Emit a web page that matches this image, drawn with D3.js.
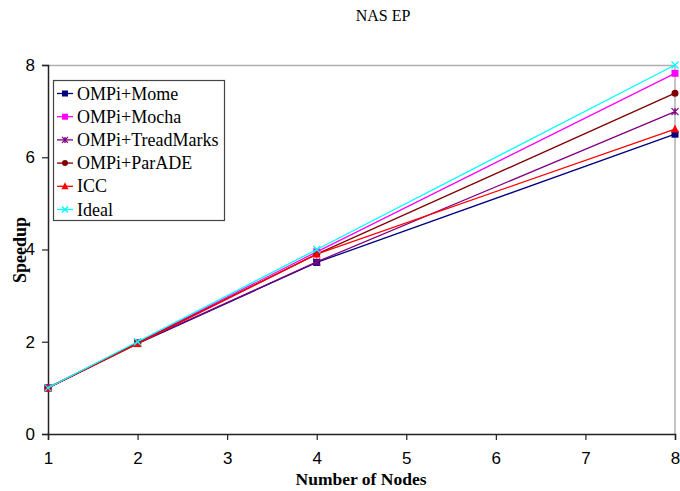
<!DOCTYPE html>
<html><head><meta charset="utf-8">
<script src="https://cdn.jsdelivr.net/npm/d3@7"></script>
<style>body{margin:0;background:#fff}</style>
</head><body>
<svg id="c" width="680" height="491"></svg>
<script>
const nodes = [1, 2, 4, 8];
const xTicks = [1, 2, 3, 4, 5, 6, 7, 8];
const yTicks = [0, 2, 4, 6, 8];
const seriesNames = ["OMPi+Mome", "OMPi+Mocha", "OMPi+TreadMarks", "OMPi+ParADE", "ICC", "Ideal"];
const mome = [1, 1.96, 3.72, 6.50];
const mocha = [1, 1.98, 3.95, 7.82];
const treadmarks = [1, 1.97, 3.73, 6.99];
const parade = [1, 1.97, 3.90, 7.39];
const icc = [1, 1.96, 3.90, 6.61];
const ideal = [1, 2, 4, 8];
const colors = ["#000080", "#FF00FF", "#800080", "#800000", "#FF0000", "#00FFFF"];
const markers = ["square", "square", "star", "circle", "triangle", "x"];
const values = [mome, mocha, treadmarks, parade, icc, ideal];

const svg = d3.select("#c");
const x = d3.scaleLinear().domain([1, 8]).range([48, 675]);
const y = d3.scaleLinear().domain([0, 8]).range([434, 65]);

svg.append("line").attr("x1", 48).attr("x2", 675).attr("y1", 65.5).attr("y2", 65.5).attr("stroke", "#b0b0b0").attr("stroke-width", 1.5);
svg.append("line").attr("x1", 675).attr("x2", 675).attr("y1", 65).attr("y2", 434).attr("stroke", "#b0b0b0").attr("stroke-width", 1.5);

const fontNum = "Liberation Sans, Arial, sans-serif";
const fontSerif = "Liberation Serif, Times New Roman, serif";

const yAxis = svg.append("g").attr("transform", "translate(48,0)")
  .call(d3.axisLeft(y).tickValues(yTicks).tickSize(6).tickPadding(7).tickFormat(d3.format("d")));
const xAxis = svg.append("g").attr("transform", "translate(0,434)")
  .call(d3.axisBottom(x).tickValues(xTicks).tickSize(6).tickPadding(12).tickFormat(d3.format("d")));
[yAxis, xAxis].forEach(a => {
  a.select(".domain").attr("stroke", "#222").attr("stroke-width", 1.5);
  a.selectAll(".tick line").attr("stroke", "#222").attr("stroke-width", 1.2);
  a.selectAll("text").attr("font-family", fontNum).attr("font-size", 17).attr("fill", "#000");
});

const line = d3.line().x((d, i) => x(nodes[i])).y(d => y(d));

function drawMarker(g, type, cx, cy, color, s) {
  if (type === "square") {
    g.append("rect").attr("x", cx - s).attr("y", cy - s).attr("width", 2 * s).attr("height", 2 * s).attr("fill", color);
  } else if (type === "circle") {
    g.append("circle").attr("cx", cx).attr("cy", cy).attr("r", s).attr("fill", color);
  } else if (type === "triangle") {
    g.append("path").attr("d", `M${cx},${cy - s - 1}L${cx + s + 0.5},${cy + s}L${cx - s - 0.5},${cy + s}Z`).attr("fill", color);
  } else if (type === "star") {
    g.append("path").attr("d", `M${cx - s},${cy - s}L${cx + s},${cy + s}M${cx - s},${cy + s}L${cx + s},${cy - s}M${cx},${cy - s}L${cx},${cy + s}`).attr("stroke", color).attr("stroke-width", 1.3);
  } else if (type === "x") {
    g.append("path").attr("d", `M${cx - s},${cy - s}L${cx + s},${cy + s}M${cx - s},${cy + s}L${cx + s},${cy - s}`).attr("stroke", color).attr("stroke-width", 1.3);
  }
}

values.forEach((vals, k) => {
  const g = svg.append("g");
  g.append("path").datum(vals).attr("d", line).attr("fill", "none").attr("stroke", colors[k]).attr("stroke-width", 1.3);
  vals.forEach((v, i) => drawMarker(g, markers[k], x(nodes[i]), y(v), colors[k], 3.5));
});

const lg = svg.append("g");
lg.append("rect").attr("x", 53.5).attr("y", 80.5).attr("width", 171).attr("height", 140).attr("fill", "#fff").attr("stroke", "#444").attr("stroke-width", 1.2);
seriesNames.forEach((n, k) => {
  const cy = 93.5 + k * 23.2;
  lg.append("line").attr("x1", 57).attr("x2", 73).attr("y1", cy).attr("y2", cy).attr("stroke", colors[k]).attr("stroke-width", 1.3);
  drawMarker(lg, markers[k], 65, cy, colors[k], 3);
  lg.append("text").attr("x", 77).attr("y", cy + 6).attr("font-family", fontSerif).attr("font-size", 18).text(n);
});

svg.append("text").attr("x", 383).attr("y", 21).attr("text-anchor", "middle").attr("font-family", fontSerif).attr("font-size", 16).text("NAS EP");
svg.append("text").attr("x", 361).attr("y", 485).attr("text-anchor", "middle").attr("font-family", fontSerif).attr("font-size", 17.5).attr("font-weight", "bold").text("Number of Nodes");
svg.append("text").attr("transform", "translate(26,250) rotate(-90)").attr("text-anchor", "middle").attr("font-family", fontSerif).attr("font-size", 18).attr("font-weight", "bold").text("Speedup");
</script>
</body></html>
